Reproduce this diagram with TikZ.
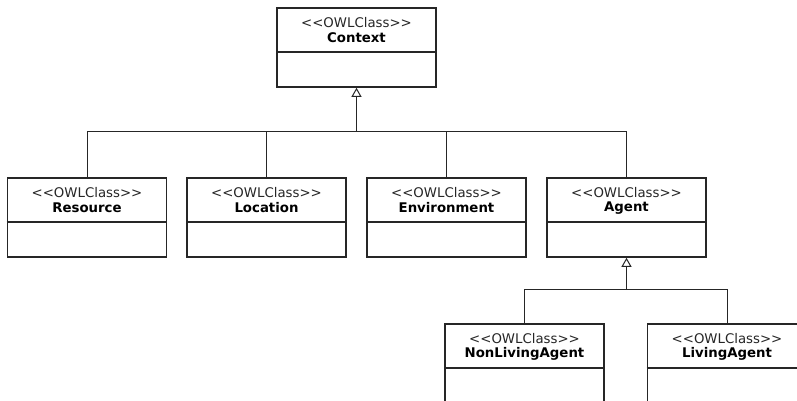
\documentclass[tikz,border=0pt]{standalone}
\usepackage{fontspec}
\setmainfont{DejaVu Sans}[Ligatures=TeXOff]
\usetikzlibrary{arrows.meta}
\tikzset{
  clsbox/.style={draw=black!85, line width=1.8pt, minimum width=159pt, minimum height=79pt, inner sep=0pt, fill=white},
  divider/.style={draw=black!85, line width=1.5pt},
  stereo/.style={font=\fontsize{13.3}{16}\selectfont, text=black!85, inner sep=0pt, anchor=center},
  cname/.style={font=\fontsize{13.3}{16}\selectfont\bfseries, inner sep=0pt, anchor=center},
  conn/.style={draw=black!85, line width=1pt},
  gen/.style={conn, -{Triangle[open,length=9pt,width=10pt,line width=1pt]}}
}
\newcommand{\umlcls}[4]{% name, x, y(top), label
  \node[clsbox, anchor=north] (#1) at (#2,#3) {};
  \draw[divider] ([yshift=-45pt]#1.north west) -- ([yshift=-45pt]#1.north east);
  \node[stereo] (#1s) at ([yshift=-16pt]#1.north) {<<OWLClass>>};
  \node[cname] (#1n) at ([yshift=-31pt]#1.north) {#4};
}
\begin{document}
\begin{tikzpicture}[x=1pt,y=-1pt]
\useasboundingbox (0,0) rectangle (797,401);
\clip (0,0) rectangle (797,401);
\umlcls{ctx}{356.5}{7}{Context}
\umlcls{res}{87}{177}{Resource}
\umlcls{loc}{266.5}{177}{Location}
\umlcls{env}{446.5}{177}{Environment}
\umlcls{ag}{626.5}{177}{Agent}
\umlcls{nla}{524.5}{323}{NonLivingAgent}
\umlcls{la}{727}{323}{LivingAgent}
\coordinate (h1) at (356.5,131);
\coordinate (h2) at (626.5,289);
\draw[conn] (res.north) |- (h1);
\draw[conn] (ag.north) |- (h1);
\draw[conn] (loc.north) |- (h1);
\draw[conn] (env.north) |- (h1);
\draw[gen] (h1) -- (ctx.south);
\draw[conn] (nla.north) |- (h2);
\draw[conn] (la.north) |- (h2);
\draw[gen] (h2) -- (ag.south);
\end{tikzpicture}
\end{document}
